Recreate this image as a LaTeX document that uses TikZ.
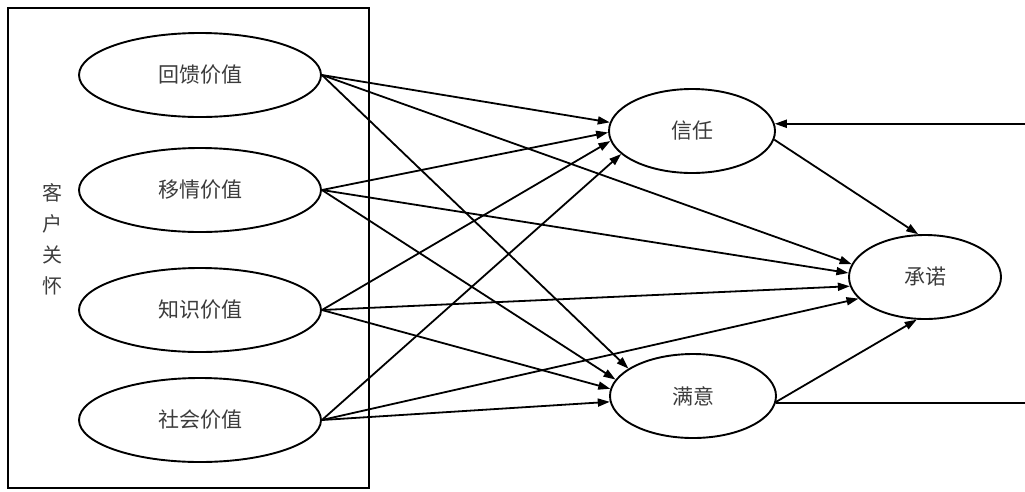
\documentclass[tikz,border=0pt]{standalone}
\usepackage{fontspec}
\setmainfont{Noto Sans CJK SC}
\usetikzlibrary{shapes.geometric,arrows.meta}
\definecolor{labelgray}{HTML}{3C3C3C}
\tikzset{
  factor/.style={ellipse, draw, line width=1.9pt, inner sep=0pt,
    minimum width=242pt, minimum height=84pt, text=labelgray,
    font=\fontsize{21}{25}\selectfont},
  outcome/.style={factor, minimum width=166pt},
  link/.style={line width=1.8pt, -{Triangle[length=12pt,width=8pt]}},
  plain/.style={line width=1.8pt}
}
\begin{document}
\begin{tikzpicture}[x=1pt,y=-1pt]
  \useasboundingbox (0,0) rectangle (1025,491);
  % customer-care frame
  \draw[line width=1.9pt] (8,8) rectangle (369,488);
  \node[text=labelgray, align=center, font=\fontsize{20}{31}\selectfont]
    (care) at (52,239) {客\\户\\关\\怀};

  % value dimensions
  \node[factor] (fk) at (200,75)  {回馈价值};
  \node[factor] (yq) at (200,190) {移情价值};
  \node[factor] (zs) at (200,310) {知识价值};
  \node[factor] (sh) at (200,420) {社会价值};

  % relationship outcomes
  \node[outcome] (xr) at (692,131) {信任};
  \node[outcome, minimum width=152pt] (cn) at (925,277) {承诺};
  \node[outcome] (my) at (693,396) {满意};

  \coordinate (redge) at (1025,0);

  % paths from each value to trust, commitment, satisfaction
  \draw[link] (fk.east) -- (xr.174);
  \draw[link] (fk.east) -- (cn.170);
  \draw[link] (fk.east) -- (my.157);
  \draw[link] (yq.east) -- (xr.181);
  \draw[link] (yq.east) -- (cn.177);
  \draw[link] (yq.east) -- (my.168);
  \draw[link] (zs.east) -- (xr.187);
  \draw[link] (zs.east) -- (cn.187);
  \draw[link] (zs.east) -- (my.175);
  \draw[link] (sh.east) -- (xr.198);
  \draw[link] (sh.east) -- (cn.198);
  \draw[link] (sh.east) -- (my.184);

  % trust and satisfaction to commitment
  \draw[link] (xr.354) -- (cn.99);
  \draw[link] (my.356) -- (cn.259);

  % feedback lines at the right edge
  \draw[link] (xr.5 -| redge) -- (xr.5);
  \draw[plain] (my.355) -- (my.355 -| redge);
\end{tikzpicture}
\end{document}
